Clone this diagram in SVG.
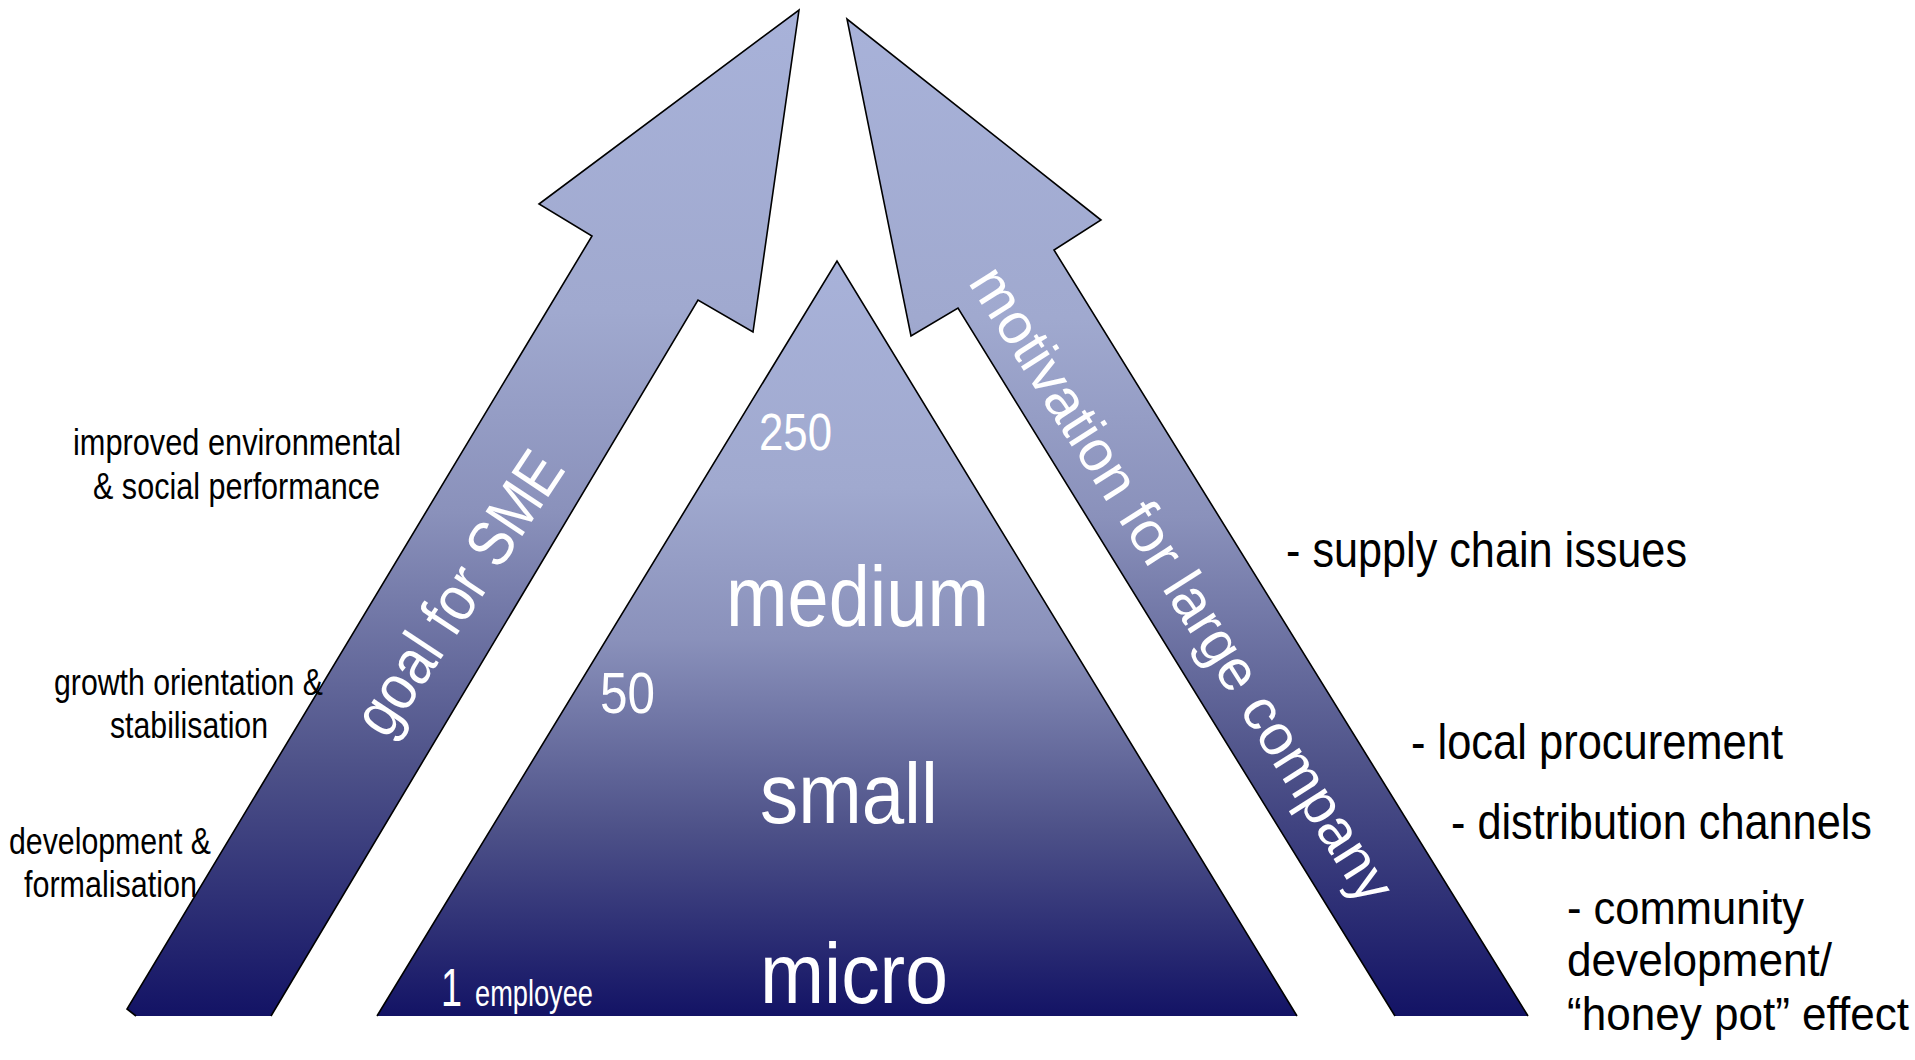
<svg xmlns="http://www.w3.org/2000/svg" width="1915" height="1060" viewBox="0 0 1915 1060">
<defs>
<linearGradient id="grad" x1="0" y1="0" x2="0" y2="1">
<stop offset="0" stop-color="#A8B2D9"/>
<stop offset="0.3" stop-color="#A0A9CF"/>
<stop offset="0.5" stop-color="#8A91BB"/>
<stop offset="0.75" stop-color="#4E5289"/>
<stop offset="1" stop-color="#131365"/>
</linearGradient>
<style>
.shape{fill:url(#grad);stroke:#000;stroke-width:1.6;stroke-linejoin:miter}
.n{font-family:"Liberation Sans Narrow","Liberation Sans",Arial,sans-serif}
.r{font-family:"Liberation Sans",Arial,sans-serif}
.blk{fill:#000}
.wht{fill:#fff}
</style>
</defs>
<rect width="1915" height="1060" fill="#fff"/>
<g id="arrow-left">
<path class="shape" d="M271,1016 L698,300 L753,332 L799,10 L539,204 L592,236 L127,1009 L136,1016"/>
<text class="n wht" font-size="64" text-anchor="middle" textLength="325" lengthAdjust="spacingAndGlyphs" transform="translate(460,594) rotate(-56.5)" x="0" y="20">goal for SME</text>
</g>
<g id="arrow-right">
<path class="shape" d="M1395,1016 L958,308 L911,336 L847,19 L1101,220 L1054,250 L1528,1016"/>
<text class="r wht" font-size="58" text-anchor="middle" textLength="740" lengthAdjust="spacingAndGlyphs" transform="translate(1181,585) rotate(57.6)" x="0" y="18">motivation for large company</text>
</g>
<g id="pyramid">
<path class="shape" d="M377,1016 L837,261 L1297,1016"/>
<text class="n wht" font-size="52" x="759" y="450" textLength="73" lengthAdjust="spacingAndGlyphs">250</text>
<text class="n wht" font-size="86" x="726" y="626" textLength="263" lengthAdjust="spacingAndGlyphs">medium</text>
<text class="n wht" font-size="58" x="600" y="713" textLength="55" lengthAdjust="spacingAndGlyphs">50</text>
<text class="n wht" font-size="86" x="760" y="823" textLength="178" lengthAdjust="spacingAndGlyphs">small</text>
<text class="n wht" font-size="86" x="760" y="1003" textLength="188" lengthAdjust="spacingAndGlyphs">micro</text>
<text class="n wht" font-size="53" x="441" y="1006" textLength="21" lengthAdjust="spacingAndGlyphs">1</text>
<text class="n wht" font-size="36" x="475" y="1006" textLength="118" lengthAdjust="spacingAndGlyphs">employee</text>
</g>
<g id="left-labels">
<text class="n blk" font-size="36" x="73" y="455" textLength="328" lengthAdjust="spacingAndGlyphs">improved environmental</text>
<text class="n blk" font-size="36" x="93" y="499" textLength="287" lengthAdjust="spacingAndGlyphs">&amp; social performance</text>
<text class="n blk" font-size="36" x="54" y="695" textLength="269" lengthAdjust="spacingAndGlyphs">growth orientation &amp;</text>
<text class="n blk" font-size="36" x="110" y="738" textLength="158" lengthAdjust="spacingAndGlyphs">stabilisation</text>
<text class="n blk" font-size="36" x="9" y="854" textLength="202" lengthAdjust="spacingAndGlyphs">development &amp;</text>
<text class="n blk" font-size="36" x="24" y="897" textLength="173" lengthAdjust="spacingAndGlyphs">formalisation</text>
</g>
<g id="right-labels">
<text class="n blk" font-size="50" x="1286" y="567" textLength="401" lengthAdjust="spacingAndGlyphs">- supply chain issues</text>
<text class="n blk" font-size="50" x="1411" y="759" textLength="372" lengthAdjust="spacingAndGlyphs">- local procurement</text>
<text class="n blk" font-size="50" x="1451" y="839" textLength="421" lengthAdjust="spacingAndGlyphs">- distribution channels</text>
<text class="n blk" font-size="47" x="1567" y="924" textLength="237" lengthAdjust="spacingAndGlyphs">- community</text>
<text class="n blk" font-size="47" x="1567" y="976" textLength="265" lengthAdjust="spacingAndGlyphs">development/</text>
<text class="n blk" font-size="47" x="1567" y="1030" textLength="342" lengthAdjust="spacingAndGlyphs">“honey pot” effect</text>
</g>
</svg>
